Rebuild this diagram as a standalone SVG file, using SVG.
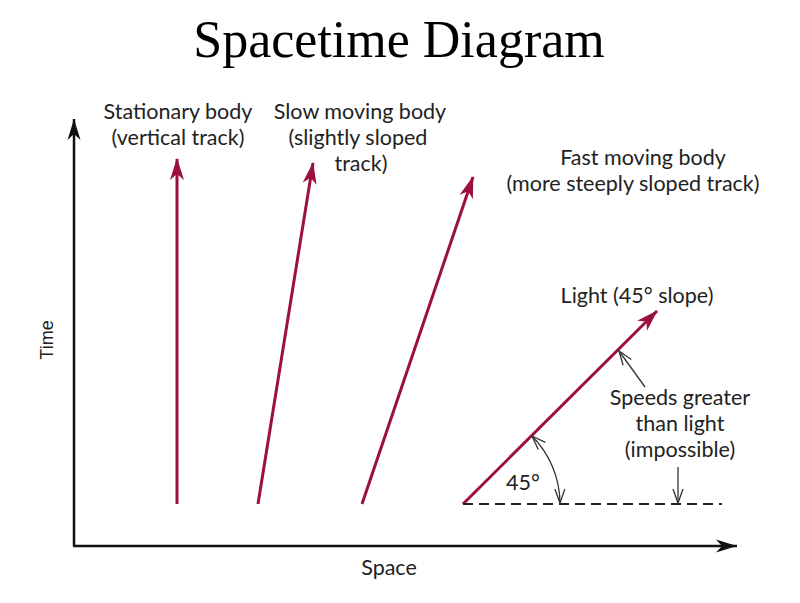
<svg xmlns="http://www.w3.org/2000/svg" width="800" height="603" viewBox="0 0 800 603">
<style>
.lbl{font-family:Lato,"DejaVu Sans",sans-serif;font-size:21.5px;fill:#222;text-anchor:middle}
.axis{stroke:#111;stroke-width:2.5;fill:none}
.track{stroke:#9c0f43;stroke-width:3;fill:none}
.thin{stroke:#333;stroke-width:1.3;fill:none}
</style>
<defs>
<marker id="ah" markerUnits="userSpaceOnUse" viewBox="-22 -8 24 16" refX="0" refY="0" markerWidth="24" markerHeight="16" orient="auto">
<path d="M0,0 L-21,-6.5 L-15,0 L-21,6.5 Z" fill="#111"/>
</marker>
<marker id="ar" markerUnits="userSpaceOnUse" viewBox="-22 -8 24 16" refX="0" refY="0" markerWidth="24" markerHeight="16" orient="auto">
<path d="M1,0 L-21,-7 L-15,0 L-21,7 Z" fill="#9c0f43"/>
</marker>
<marker id="ao" markerUnits="userSpaceOnUse" viewBox="-16 -8 18 16" refX="0" refY="0" markerWidth="18" markerHeight="16" orient="auto-start-reverse">
<path d="M-14,-5 L0,0 L-14,5" fill="none" stroke="#333" stroke-width="1.3"/>
</marker>
</defs>
<rect width="800" height="603" fill="#fff"/>
<text x="399" y="57" font-family="'Liberation Serif','Times New Roman',serif" font-size="52" fill="#000" text-anchor="middle">Spacetime Diagram</text>
<g id="connectors">
<path id="time-axis" class="axis" d="M74,546 L74,119" marker-end="url(#ah)"/>
<path id="space-axis" class="axis" d="M73,546 L737,546" marker-end="url(#ah)"/>
<path id="stationary" class="track" d="M177,504 L177,159" marker-end="url(#ar)"/>
<path id="slow" class="track" d="M258,504 L313,163" marker-end="url(#ar)"/>
<path id="fast" class="track" d="M362,504 L473,177" marker-end="url(#ar)"/>
<path id="light" class="track" d="M463,504 L657,311" marker-end="url(#ar)"/>
<path id="baseline" d="M463,504 L722,504" stroke="#222" stroke-width="2" stroke-dasharray="10,6"/>
<path id="angle-arc" class="thin" d="M532,436 A97,97 0 0 1 560,503" marker-start="url(#ao)" marker-end="url(#ao)"/>
<path id="ptr1" class="thin" d="M645,387 L619,351" marker-end="url(#ao)"/>
<path id="ptr2" class="thin" d="M678,467 L678,503" marker-end="url(#ao)"/>
</g>
<g id="label-stationary">
<text class="lbl" x="178" y="119">Stationary body</text>
<text class="lbl" x="178" y="145">(vertical track)</text>
</g>
<g id="label-slow">
<text class="lbl" x="360" y="119">Slow moving body</text>
<text class="lbl" x="358" y="145">(slightly sloped</text>
<text class="lbl" x="361" y="171">track)</text>
</g>
<g id="label-fast">
<text class="lbl" x="643" y="165">Fast moving body</text>
<text class="lbl" x="633" y="191">(more steeply sloped track)</text>
</g>
<g id="label-light">
<text class="lbl" x="637" y="303">Light (45° slope)</text>
</g>
<g id="label-speeds">
<text class="lbl" x="680" y="405">Speeds greater</text>
<text class="lbl" x="680" y="431">than light</text>
<text class="lbl" x="680" y="457">(impossible)</text>
</g>
<text class="lbl" x="523" y="490">45°</text>
<text class="lbl" x="389" y="575">Space</text>
<text x="0" y="0" transform="translate(53,340) rotate(-90)" font-family="'Liberation Sans',Arial,sans-serif" font-size="18" fill="#222" text-anchor="middle">Time</text>
</svg>
